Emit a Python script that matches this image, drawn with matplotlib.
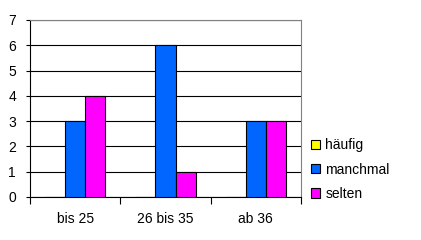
import numpy as np
import matplotlib.pyplot as plt

categories = ['bis 25', '26 bis 35', 'ab 36']
series = ['häufig', 'manchmal', 'selten']
haeufig = [0, 0, 0]
manchmal = [3, 6, 3]
selten = [4, 1, 3]
colors = ['#FFFF00', '#0066FF', '#FF00FF']

plt.rcParams['font.family'] = ['Liberation Sans', 'DejaVu Sans']

fig = plt.figure(figsize=(4.21, 2.4), dpi=100)
ax = fig.add_axes([30/421, 43/240, 271/421, 177/240])

x = np.arange(len(categories))
width = 1/4.5
for i, (vals, c, lab) in enumerate(zip([haeufig, manchmal, selten], colors, series)):
    ax.bar(x + (i - 1)*width, vals, width, color=c, edgecolor='black',
           linewidth=0.8, label=lab, zorder=3)

ax.set_xlim(-0.5, 2.5)
ax.set_ylim(0, 7)
ax.set_yticks(range(8))
ax.yaxis.grid(True, color='black', lw=0.8, zorder=0)
ax.set_xticks(x)
ax.set_xticklabels(categories)
ax.set_xticks(np.arange(-0.5, 3, 1), minor=True)
ax.tick_params(axis='x', which='major', length=0, pad=11, labelsize=10)
ax.tick_params(axis='x', which='minor', length=5, width=0.8, direction='out')
ax.tick_params(axis='y', length=3, width=0.8, labelsize=10, pad=7)

ax.spines['left'].set_linewidth(0.8)
ax.spines['bottom'].set_linewidth(0.8)
ax.spines['top'].set_color('#808080')
ax.spines['right'].set_color('#808080')

ax.legend(loc='center left', bbox_to_anchor=(1.0, 0.155), frameon=False,
          handlelength=0.65, handleheight=0.65, handletextpad=0.4,
          labelspacing=0.75, fontsize=10, borderaxespad=0.3)

fig.savefig('out.png', dpi=100)
